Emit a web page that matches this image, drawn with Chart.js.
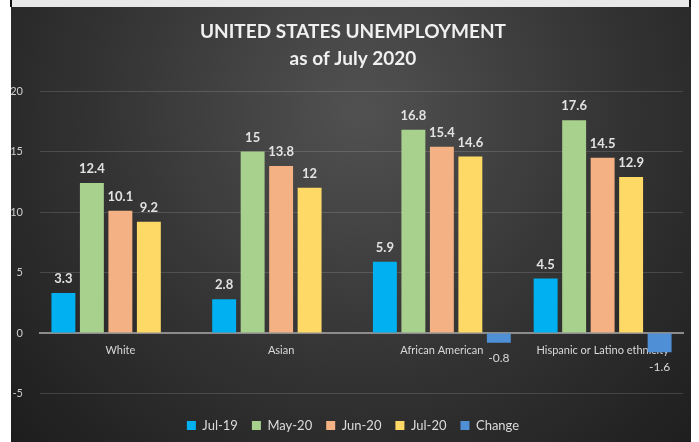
<!DOCTYPE html>
<html>
<head>
<meta charset="utf-8">
<script src="https://cdn.jsdelivr.net/npm/chart.js@4"></script>
<style>
  html, body { margin: 0; padding: 0; background: #fff; }
  #wrap { width: 699px; height: 442px; position: relative; }
</style>
</head>
<body>
<div id="wrap"><canvas id="myChart" width="699" height="442"></canvas></div>
<script>
var categories = ["White", "Asian", "African American", "Hispanic or Latino ethnicity"];
var seriesNames = ["Jul-19", "May-20", "Jun-20", "Jul-20", "Change"];
var jul19 = [3.3, 2.8, 5.9, 4.5];
var may20 = [12.4, 15, 16.8, 17.6];
var jun20 = [10.1, 13.8, 15.4, 14.5];
var jul20 = [9.2, 12, 14.6, 12.9];
var change = [null, null, -0.8, -1.6];
var barColors = ["#00b0f0", "#a9d18e", "#f4b183", "#ffd966", "#4f8fd6"];
var titleLines = ["UNITED STATES UNEMPLOYMENT", "as of July 2020"];

// dark panel with light strip on top, like the screenshot frame
const backdrop = {
    id: 'backdrop',
    beforeDraw(chart) {
        const ctx = chart.ctx;
        ctx.save();
        ctx.fillStyle = "#ffffff";
        ctx.fillRect(0, 0, 699, 442);
        ctx.fillStyle = "#e8e8e8";
        ctx.fillRect(11, 0, 680, 7);
        ctx.fillStyle = "#111";
        ctx.fillRect(10, 0, 2, 7);
        ctx.fillRect(689, 0, 2, 7);
        var g = ctx.createRadialGradient(360, 110, 10, 360, 110, 470);
        g.addColorStop(0, "#505050");
        g.addColorStop(0.55, "#333333");
        g.addColorStop(1, "#1e1e1e");
        ctx.fillStyle = g;
        ctx.fillRect(11, 7, 680, 435);
        ctx.restore();
    }
};

const valueLabels = {
    id: 'valueLabels',
    afterDatasetsDraw(chart) {
        const ctx = chart.ctx;
        ctx.save();
        ctx.textAlign = "center";
        ctx.textBaseline = "middle";
        chart.data.datasets.forEach(function (ds, i) {
            chart.getDatasetMeta(i).data.forEach(function (bar, j) {
                var v = ds.data[j];
                if (v === null) return;
                if (v >= 0) {
                    ctx.font = "bold 13px Lato";
                    ctx.fillStyle = "#e2e2e2";
                    ctx.fillText(String(v), bar.x, bar.y - 14);
                } else {
                    ctx.font = "12px Lato";
                    ctx.fillStyle = "#d8d8d8";
                    ctx.fillText(String(v), bar.x, bar.y + 15);
                }
            });
        });
        ctx.restore();
    }
};

var allData = [jul19, may20, jun20, jul20, change];

new Chart("myChart", {
    type: "bar",
    data: {
        labels: categories,
        datasets: seriesNames.map(function (name, i) {
            return {
                label: name,
                data: allData[i],
                backgroundColor: barColors[i],
                categoryPercentage: 0.886,
                barPercentage: 0.84
            };
        })
    },
    options: {
        responsive: false,
        animation: false,
        layout: { padding: { left: 11, right: 4, top: 7, bottom: 0 } },
        scales: {
            x: {
                position: { y: 0 },
                grid: { display: false, drawTicks: false },
                border: { display: true, color: "#8c8c8c", width: 2 },
                ticks: {
                    color: "#d9d9d9",
                    font: { family: "Lato", size: 11 },
                    padding: 11,
                    maxRotation: 0,
                    autoSkip: false
                }
            },
            y: {
                min: -5,
                max: 20,
                ticks: {
                    stepSize: 5,
                    color: "#cfcfcf",
                    font: { family: "Lato", size: 11 },
                    padding: 17
                },
                grid: { color: "rgba(255,255,255,0.14)", drawTicks: false },
                border: { display: false },
                afterFit: function (scale) { scale.width = 29; }
            },
            // empty spacer on the right so title/legend sit where they do in the picture
            yRight: {
                type: "linear",
                position: "right",
                grid: { display: false, drawTicks: false },
                border: { display: false },
                ticks: { display: false },
                afterFit: function (scale) { scale.width = 12; }
            }
        },
        plugins: {
            title: {
                display: true,
                text: titleLines,
                color: "#f0f0f0",
                font: { family: "Lato", size: 19, weight: "bold", lineHeight: 1.45 },
                padding: { top: 11, bottom: 18 }
            },
            legend: {
                position: "bottom",
                title: { display: true, text: "", font: { size: 10, lineHeight: 1.15 }, padding: 0 },
                labels: {
                    color: "#dcdcdc",
                    font: { family: "Lato", size: 13 },
                    boxWidth: 9,
                    boxHeight: 9,
                    padding: 14
                }
            },
            tooltip: { enabled: false }
        }
    },
    plugins: [backdrop, valueLabels]
});
</script>
</body>
</html>
